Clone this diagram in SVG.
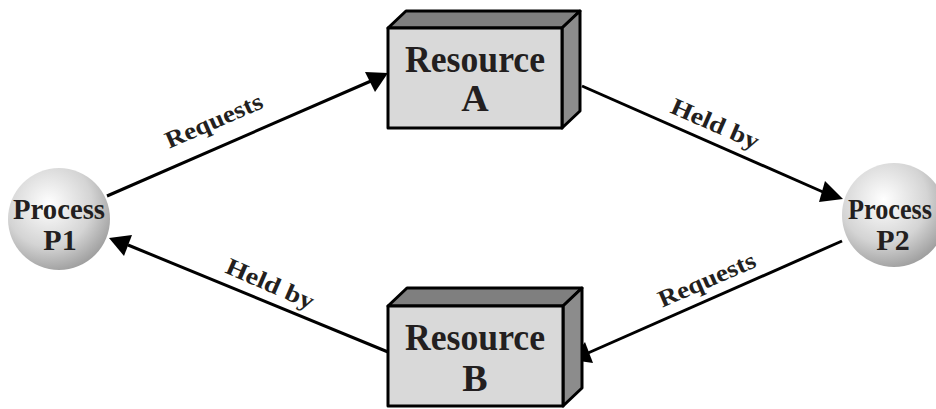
<svg xmlns="http://www.w3.org/2000/svg" width="936" height="409" viewBox="0 0 936 409">
<defs>
<radialGradient id="sph" cx="0.4" cy="0.35" r="0.7">
<stop offset="0" stop-color="#ffffff"/>
<stop offset="0.6" stop-color="#d4d4d4"/>
<stop offset="1" stop-color="#9a9a9a"/>
</radialGradient>
</defs>
<style>
.front{fill:#d9d9d9;stroke:#000;stroke-width:3;stroke-linejoin:round}
.top{fill:#7f7f7f;stroke:#000;stroke-width:3;stroke-linejoin:round}
.side{fill:#8c8c8c;stroke:#000;stroke-width:3;stroke-linejoin:round}
.big{font-family:"Liberation Serif",serif;font-weight:bold;font-size:38px;fill:#231f20;text-anchor:middle}
.proc{font-family:"Liberation Serif",serif;font-weight:bold;font-size:30px;fill:#231f20;text-anchor:middle}
.lbl{font-family:"Liberation Serif",serif;font-weight:bold;font-size:24px;fill:#231f20;text-anchor:middle}
.conn{stroke:#000;stroke-width:3;fill:none}
.head{fill:#000}
</style>
<g id="connectors">
<line class="conn" x1="107" y1="196" x2="371" y2="81"/>
<line class="conn" x1="582" y1="86" x2="823" y2="192"/>
<line class="conn" x1="842" y1="241" x2="588" y2="353"/>
<line class="conn" x1="388" y1="352" x2="128" y2="245"/>
<path class="head" d="M388,73 L365,72 L375,92 Z"/>
<path class="head" d="M843,199 L825,181 L819,202 Z"/>
<path class="head" d="M572,360 L585,342 L593,363 Z"/>
<path class="head" d="M109,238 L132,235 L124,256 Z"/>
<text class="lbl" transform="translate(217,128) rotate(-23.6)" textLength="104" lengthAdjust="spacingAndGlyphs">Requests</text>
<text class="lbl" transform="translate(712,131) rotate(23.6)" textLength="94" lengthAdjust="spacingAndGlyphs">Held by</text>
<text class="lbl" transform="translate(710,287) rotate(-23.6)" textLength="104" lengthAdjust="spacingAndGlyphs">Requests</text>
<text class="lbl" transform="translate(267,291) rotate(23.6)" textLength="94" lengthAdjust="spacingAndGlyphs">Held by</text>
</g>
<g id="resourceA">
<path class="top" d="M388,28 L406,11 L580,11 L562,28 Z"/>
<path class="side" d="M562,28 L580,11 L580,111 L562,128 Z"/>
<rect class="front" x="388" y="28" width="174" height="100"/>
<text class="big" x="475" y="72" textLength="140" lengthAdjust="spacingAndGlyphs">Resource</text>
<text class="big" x="475" y="111">A</text>
</g>
<g id="resourceB">
<path class="top" d="M388,306 L407,288 L582,288 L563,306 Z"/>
<path class="side" d="M563,306 L582,288 L582,388 L563,406 Z"/>
<rect class="front" x="388" y="306" width="175" height="100"/>
<text class="big" x="475" y="350" textLength="140" lengthAdjust="spacingAndGlyphs">Resource</text>
<text class="big" x="475" y="391">B</text>
</g>
<g id="processP1">
<circle cx="59" cy="219" r="51" fill="url(#sph)"/>
<text class="proc" x="59" y="219" textLength="92" lengthAdjust="spacingAndGlyphs">Process</text>
<text class="proc" x="60" y="250">P1</text>
</g>
<g id="processP2">
<circle cx="894" cy="215" r="52" fill="url(#sph)"/>
<text class="proc" x="890" y="219" textLength="84" lengthAdjust="spacingAndGlyphs">Process</text>
<text class="proc" x="893" y="250">P2</text>
</g>
</svg>
